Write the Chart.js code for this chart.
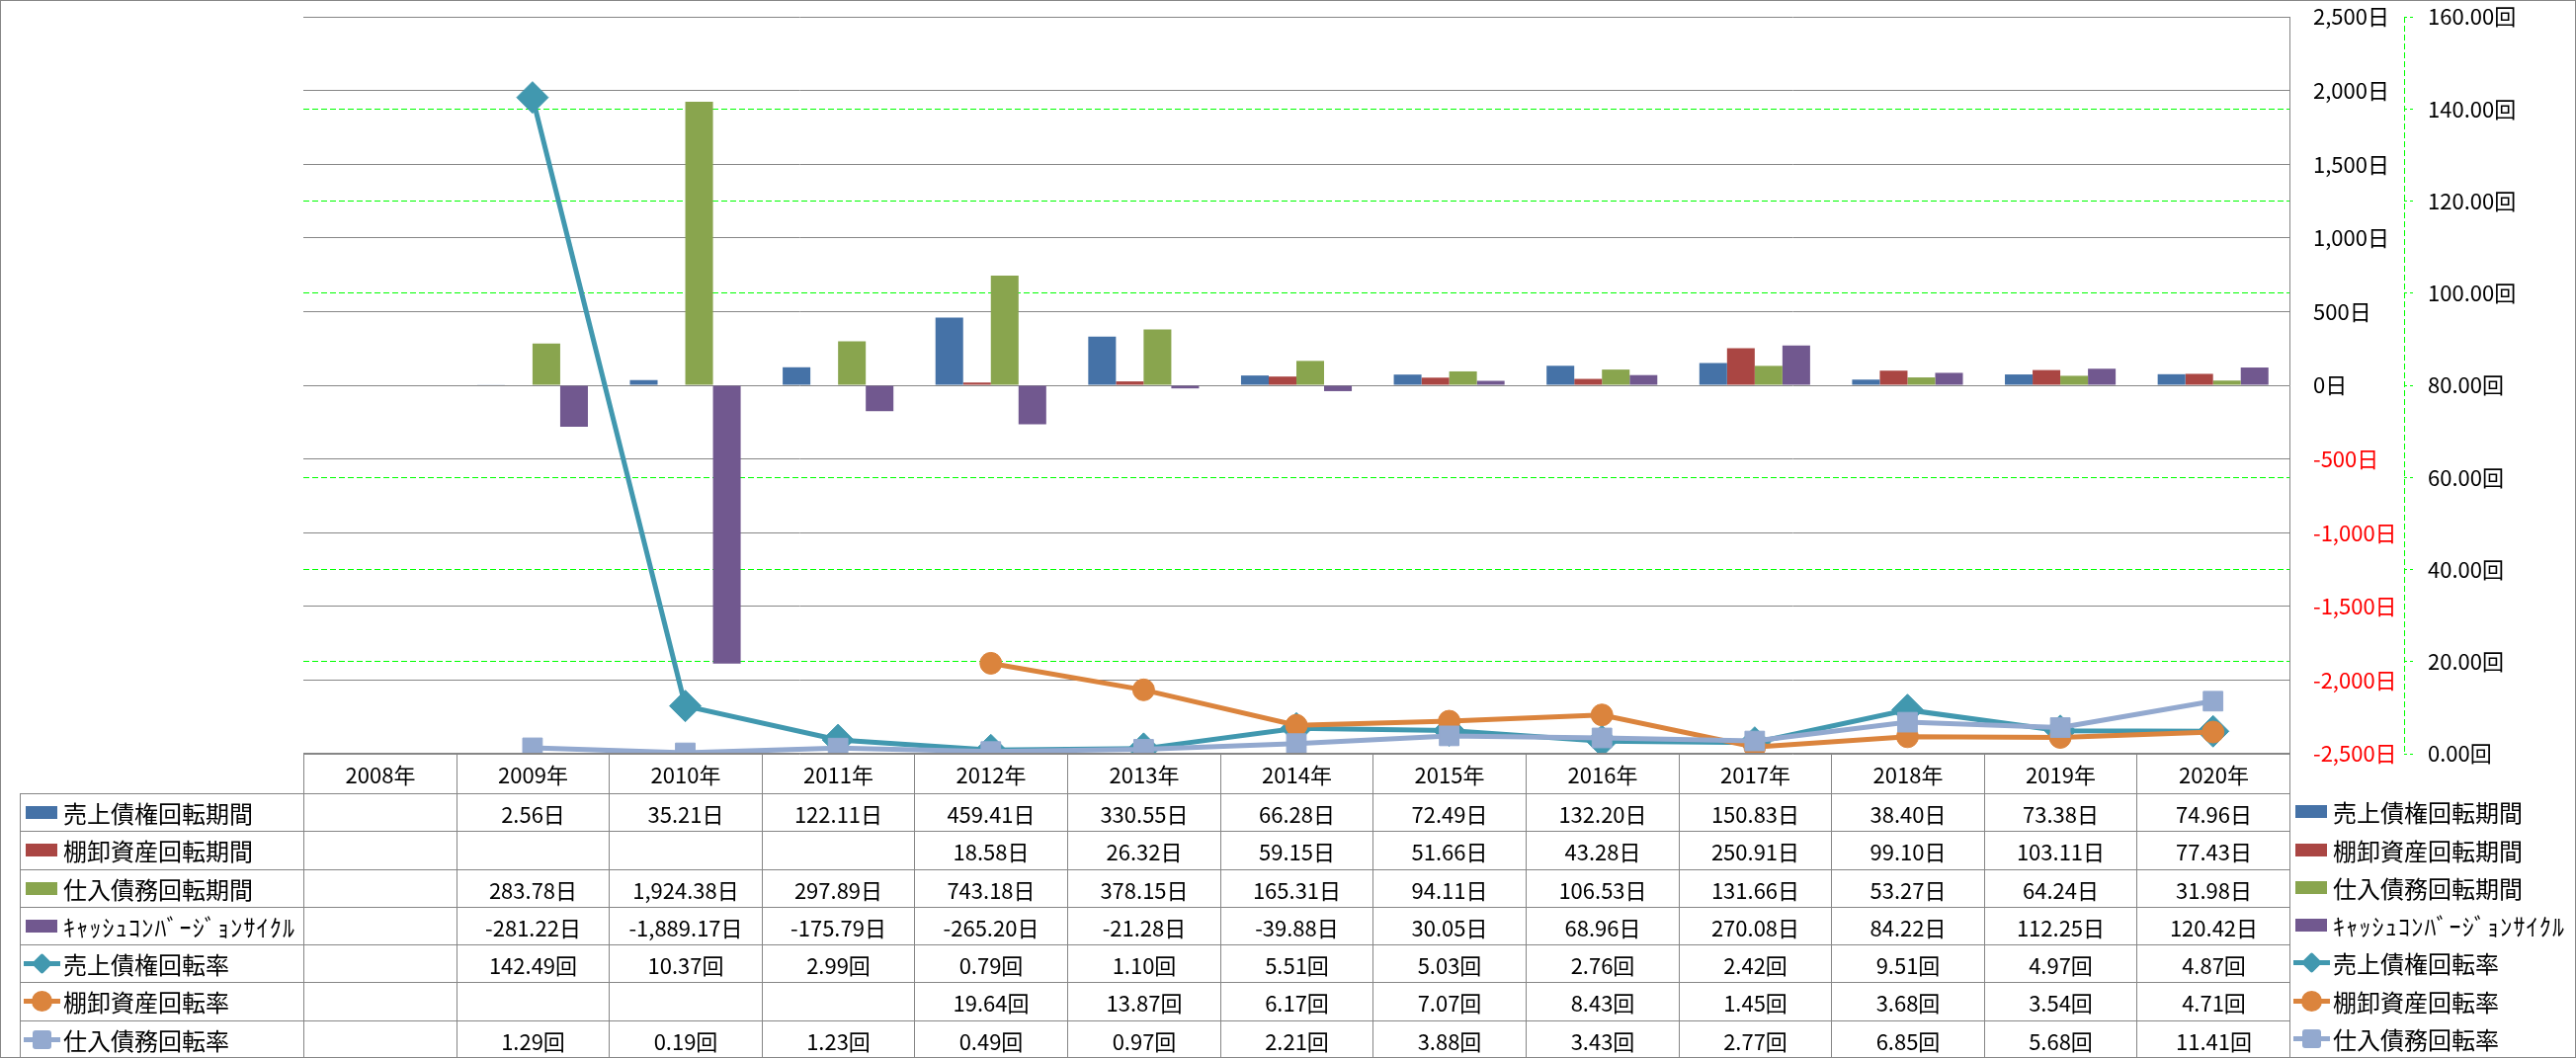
<!DOCTYPE html>
<html>
<head>
<meta charset="utf-8">
<script src="https://cdn.jsdelivr.net/npm/chart.js@4.4.1/dist/chart.umd.min.js"></script>
<style>
html,body{margin:0;padding:0;background:#fff;}
#wrap{position:relative;width:2607px;height:1071px;overflow:hidden;font-family:"Noto Sans CJK JP","Noto Sans",sans-serif;color:#000;}
#chart{position:absolute;left:0;top:0;}
#frame{position:absolute;left:0;top:0;width:2607px;height:1071px;box-sizing:border-box;border:1px solid #868686;pointer-events:none;}
.cell{position:absolute;box-sizing:border-box;border-left:1px solid #868686;border-top:1px solid #868686;display:flex;align-items:center;justify-content:center;font-size:22px;white-space:nowrap;line-height:1;}
.lab{justify-content:flex-start;padding-left:3px;font-size:24px;}
.item{position:absolute;display:flex;align-items:center;font-size:24px;white-space:nowrap;line-height:1;}
.key{position:relative;width:37px;height:24px;flex:0 0 37px;margin-right:3px;}
.key .bar{position:absolute;left:2px;top:5px;width:32px;height:13px;}
.key .ln{position:absolute;left:0;top:9px;width:37px;height:5px;}
.key .mk{position:absolute;}
.narrow{letter-spacing:1.2px;}
</style>
</head>
<body>
<div id="wrap">
<canvas id="chart" width="2607" height="1071"></canvas>
<div id="table"></div>
<div id="frame"></div>
</div>
<script>
// ---- data ----
const categories = ['2008年','2009年','2010年','2011年','2012年','2013年','2014年','2015年','2016年','2017年','2018年','2019年','2020年'];
const seriesNames = ['売上債権回転期間','棚卸資産回転期間','仕入債務回転期間','ｷｬｯｼｭｺﾝﾊﾞｰｼﾞｮﾝｻｲｸﾙ','売上債権回転率','棚卸資産回転率','仕入債務回転率'];
const receivableDays = [null,2.56,35.21,122.11,459.41,330.55,66.28,72.49,132.20,150.83,38.40,73.38,74.96];
const inventoryDays = [null,null,null,null,18.58,26.32,59.15,51.66,43.28,250.91,99.10,103.11,77.43];
const payableDays = [null,283.78,1924.38,297.89,743.18,378.15,165.31,94.11,106.53,131.66,53.27,64.24,31.98];
const cashConversionDays = [null,-281.22,-1889.17,-175.79,-265.20,-21.28,-39.88,30.05,68.96,270.08,84.22,112.25,120.42];
const receivableTurnover = [null,142.49,10.37,2.99,0.79,1.10,5.51,5.03,2.76,2.42,9.51,4.97,4.87];
const inventoryTurnover = [null,null,null,null,19.64,13.87,6.17,7.07,8.43,1.45,3.68,3.54,4.71];
const payableTurnover = [null,1.29,0.19,1.23,0.49,0.97,2.21,3.88,3.43,2.77,6.85,5.68,11.41];
const dayAxisRange = [-2500, 2500, 500];
const timesAxisRange = [0, 160, 20];
const units = ['日','日','日','日','回','回','回'];

// ---- styles ----
const colors = ['#4572A7','#AA4643','#89A54E','#71588F','#4198AF','#DB843D','#93A9CF'];
const markers = ['rectRot','circle','rect'];
const GRID = '#868686';
const GREEN = '#00ff00';
const PLOT = {left:307, top:15, bottom:763};

const allSeries = [receivableDays, inventoryDays, payableDays, cashConversionDays, receivableTurnover, inventoryTurnover, payableTurnover];

function fmt(v){
  return v.toLocaleString('en-US',{minimumFractionDigits:2,maximumFractionDigits:2});
}
// a secondary grid line that falls on a primary grid line is hidden (the grey line wins)
function onPrimaryGrid(v){
  const d = dayAxisRange[0] + (v - timesAxisRange[0]) / (timesAxisRange[1] - timesAxisRange[0]) * (dayAxisRange[1] - dayAxisRange[0]);
  return Math.abs(d / dayAxisRange[2] - Math.round(d / dayAxisRange[2])) < 1e-6;
}

const datasets = [];
for (let i = 0; i < 4; i++) {
  datasets.push({type:'bar', label:seriesNames[i], data:allSeries[i], backgroundColor:colors[i], borderWidth:0, yAxisID:'y', order:10});
}
const markerRadius = [16, 11, 14];
for (let i = 4; i < 7; i++) {
  datasets.push({type:'line', label:seriesNames[i], data:allSeries[i], borderColor:colors[i], backgroundColor:colors[i],
    borderWidth:5, pointStyle:markers[i-4], pointRadius:markerRadius[i-4], pointBorderWidth:1, pointBorderColor:colors[i],
    pointBackgroundColor:colors[i], tension:0, spanGaps:false, yAxisID:'y2', order:7-i});
}

const dashedAxis = {
  id:'dashedAxis',
  afterDraw(chart){
    const s = chart.scales.y2;
    const c = chart.ctx;
    c.save();
    c.strokeStyle = GREEN;
    c.lineWidth = 1;
    c.setLineDash([6,3]);
    c.beginPath();
    c.moveTo(Math.round(s.left)+0.5, s.top);
    c.lineTo(Math.round(s.left)+0.5, s.bottom);
    c.stroke();
    c.restore();
  }
};

const chart = new Chart(document.getElementById('chart'), {
  data:{labels:categories, datasets:datasets},
  options:{
    responsive:false,
    animation:false,
    layout:{padding:{left:PLOT.left, top:PLOT.top, right:0, bottom:1071-PLOT.bottom}},
    datasets:{bar:{categoryPercentage:0.725, barPercentage:1}},
    plugins:{legend:{display:false}, tooltip:{enabled:false}},
    scales:{
      x:{display:false, offset:true},
      y:{
        position:'right', min:dayAxisRange[0], max:dayAxisRange[1],
        ticks:{stepSize:dayAxisRange[2], padding:24, font:{family:'"Noto Sans CJK JP"', size:22},
          color:(c)=> (c.tick && c.tick.value < 0) ? '#ff0000' : '#000000',
          callback:(v)=> v.toLocaleString('en-US') + '日'},
        grid:{color:GRID, lineWidth:1, drawTicks:false},
        border:{display:true, color:GRID, width:1},
        afterFit(s){ s.width = 116; s.paddingTop = 0; s.paddingBottom = 0; }
      },
      y2:{
        position:'right', min:timesAxisRange[0], max:timesAxisRange[1],
        ticks:{stepSize:timesAxisRange[2], padding:14, color:'#000', font:{family:'"Noto Sans CJK JP"', size:22},
          callback:(v)=> v.toFixed(2) + '回'},
        grid:{color:(c)=> (c.tick && onPrimaryGrid(c.tick.value)) ? 'rgba(0,0,0,0)' : GREEN,
          lineWidth:1, drawTicks:true, tickLength:10, tickColor:GREEN, tickBorderDash:[3,3]},
        border:{display:false, dash:[6,3]},
        afterFit(s){ s.width = 174; s.paddingTop = 0; s.paddingBottom = 0; }
      }
    }
  },
  plugins:[dashedAxis]
});

// ---- data table & legend (HTML text) ----
const area = chart.chartArea;
const n = categories.length;
const cw = (area.right - area.left) / n;
const tableTop = 762;
const headerBottom = 803;
const rowH = (1071 - headerBottom) / 7;
const legendLeft = 20;
const tbl = document.getElementById('table');

function addDiv(cls, left, top, w, h, html){
  const d = document.createElement('div');
  d.className = cls;
  d.style.left = left + 'px'; d.style.top = top + 'px';
  d.style.width = w + 'px'; d.style.height = h + 'px';
  if (html !== undefined) d.innerHTML = html;
  tbl.appendChild(d);
  return d;
}
function colX(i){ return Math.round(area.left + i*cw); }
function rowY(r){ return Math.round(headerBottom + r*rowH); }

function keyHTML(i){
  if (i < 4) return '<span class="key"><span class="bar" style="background:'+colors[i]+'"></span></span>';
  const c = colors[i];
  let mk;
  if (i === 4) mk = '<span class="mk" style="left:11px;top:4px;width:15px;height:15px;background:'+c+';transform:rotate(45deg);border-radius:2px"></span>';
  else if (i === 5) mk = '<span class="mk" style="left:8px;top:1px;width:21px;height:21px;background:'+c+';border-radius:50%"></span>';
  else mk = '<span class="mk" style="left:9px;top:2px;width:19px;height:19px;background:'+c+';border-radius:3px"></span>';
  return '<span class="key"><span class="ln" style="background:'+c+'"></span>'+mk+'</span>';
}
function labelHTML(i){
  return '<span'+(i===3?' class="narrow"':'')+'>'+seriesNames[i]+'</span>';
}

for (let i = 0; i < n; i++) {
  addDiv('cell', colX(i), tableTop, colX(i+1)-colX(i)+(i===n-1?1:0), headerBottom - tableTop, categories[i]);
}
for (let r = 0; r < 7; r++) {
  const y0 = rowY(r), y1 = rowY(r+1);
  addDiv('cell lab', legendLeft, y0, colX(0)-legendLeft, y1-y0, keyHTML(r)+labelHTML(r));
  for (let i = 0; i < n; i++) {
    const v = allSeries[r][i];
    addDiv('cell', colX(i), y0, colX(i+1)-colX(i)+(i===n-1?1:0), y1-y0, v === null ? '' : fmt(v) + units[r]);
  }
  addDiv('item', colX(n)+4, y0, 2607 - colX(n) - 6, y1-y0, keyHTML(r)+labelHTML(r));
}
const rb = addDiv('', colX(n), tableTop, 1, 1071 - tableTop);
rb.style.position='absolute'; rb.style.background=GRID;
</script>
</body>
</html>
